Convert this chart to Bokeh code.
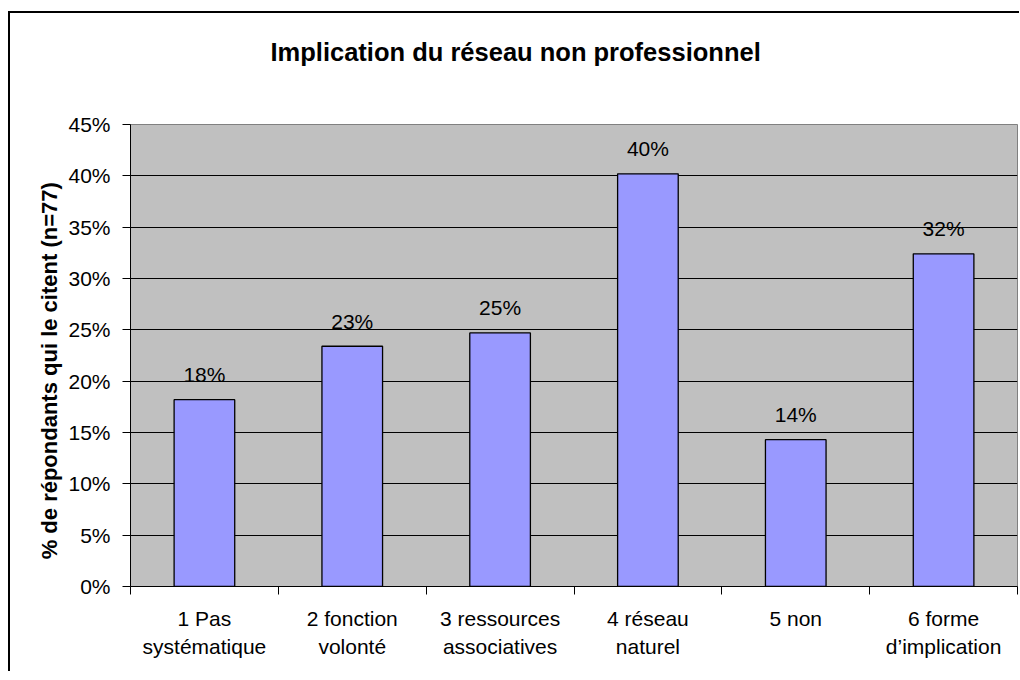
from bokeh.plotting import figure
from bokeh.models import FixedTicker, NumeralTickFormatter, Range1d, ColumnDataSource, Title
from bokeh.core.properties import value
from bokeh.embed import file_html
from bokeh.resources import INLINE

categories = ["1 Pas\nsystématique", "2 fonction\nvolonté", "3 ressources\nassociatives",
              "4 réseau\nnaturel", "5 non", "6 forme\nd\u2019implication"]
shares = [0.182, 0.234, 0.247, 0.402, 0.143, 0.324]
y_ticks = [0.0, 0.05, 0.10, 0.15, 0.20, 0.25, 0.30, 0.35, 0.40, 0.45]
title_text = "Implication du réseau non professionnel"
y_title = "% de répondants qui le citent (n=77)"

FONT = "Liberation Sans"
FS = "21px"

xs = [i + 0.5 for i in range(len(categories))]
labels = [f"{v * 100:.0f}%" for v in shares]
src = ColumnDataSource(dict(x=xs, top=shares, label=labels))

p = figure(frame_width=887, frame_height=462,
           x_range=Range1d(0, len(categories)), y_range=Range1d(0, 0.45),
           output_backend="svg", toolbar_location=None,
           min_border_left=120, min_border_right=2, min_border_top=111, min_border_bottom=85)

p.styles = {"border-left": "2px solid black", "border-top": "2px solid black",
            "margin-top": "11px", "margin-left": "8px"}

p.background_fill_color = "#C0C0C0"
p.border_fill_color = "white"
p.outline_line_color = "#808080"
p.outline_line_width = 1

p.title.text = title_text
p.title.text_font = FONT
p.title.text_font_size = "25.5px"
p.title.text_font_style = "bold"
p.title.text_color = "black"
p.title.align = "left"
p.title.offset = 140
p.title.standoff = 10

# spacer between the title and the plot area
p.add_layout(Title(text=" ", text_font_size="2px", standoff=50), "above")

p.xgrid.grid_line_color = None
p.ygrid.grid_line_color = "black"
p.ygrid.grid_line_width = 1
p.ygrid.ticker = FixedTicker(ticks=y_ticks)

p.vbar(x="x", top="top", width=0.41, source=src, fill_color="#9999FF",
       line_color="black", line_width=1.3)

p.text(x="x", y="top", text="label", source=src, y_offset=-25,
       text_align="center", text_baseline="alphabetic",
       text_font=value(FONT), text_font_size=FS, text_color="black")

# y axis
ya = p.yaxis[0]
ya.ticker = FixedTicker(ticks=y_ticks, minor_ticks=[])
ya.formatter = NumeralTickFormatter(format="0%")
ya.axis_line_color = "black"
ya.major_tick_line_color = "black"
ya.major_tick_out = 8
ya.major_tick_in = 0
ya.minor_tick_line_color = None
ya.major_label_text_font = FONT
ya.major_label_text_font_size = FS
ya.major_label_text_color = "black"
ya.major_label_standoff = 12
ya.axis_label = y_title + "\u00a0" * 5
ya.axis_label_text_font = FONT
ya.axis_label_text_font_size = "22px"
ya.axis_label_text_font_style = "bold"
ya.axis_label_text_color = "black"
ya.axis_label_standoff = 3

# x axis
xa = p.xaxis[0]
xa.ticker = FixedTicker(ticks=xs, minor_ticks=list(range(len(categories) + 1)))
xa.major_label_overrides = {x: c for x, c in zip(xs, categories)}
xa.axis_line_color = "black"
xa.major_tick_line_color = None
xa.major_tick_out = 0
xa.major_tick_in = 0
xa.minor_tick_line_color = "black"
xa.minor_tick_out = 8
xa.minor_tick_in = 0
xa.major_label_text_font = FONT
xa.major_label_text_font_size = FS
xa.major_label_text_color = "black"
xa.major_label_text_line_height = 1.25
xa.major_label_standoff = 12

open("out.html", "w").write(file_html(p, INLINE))
